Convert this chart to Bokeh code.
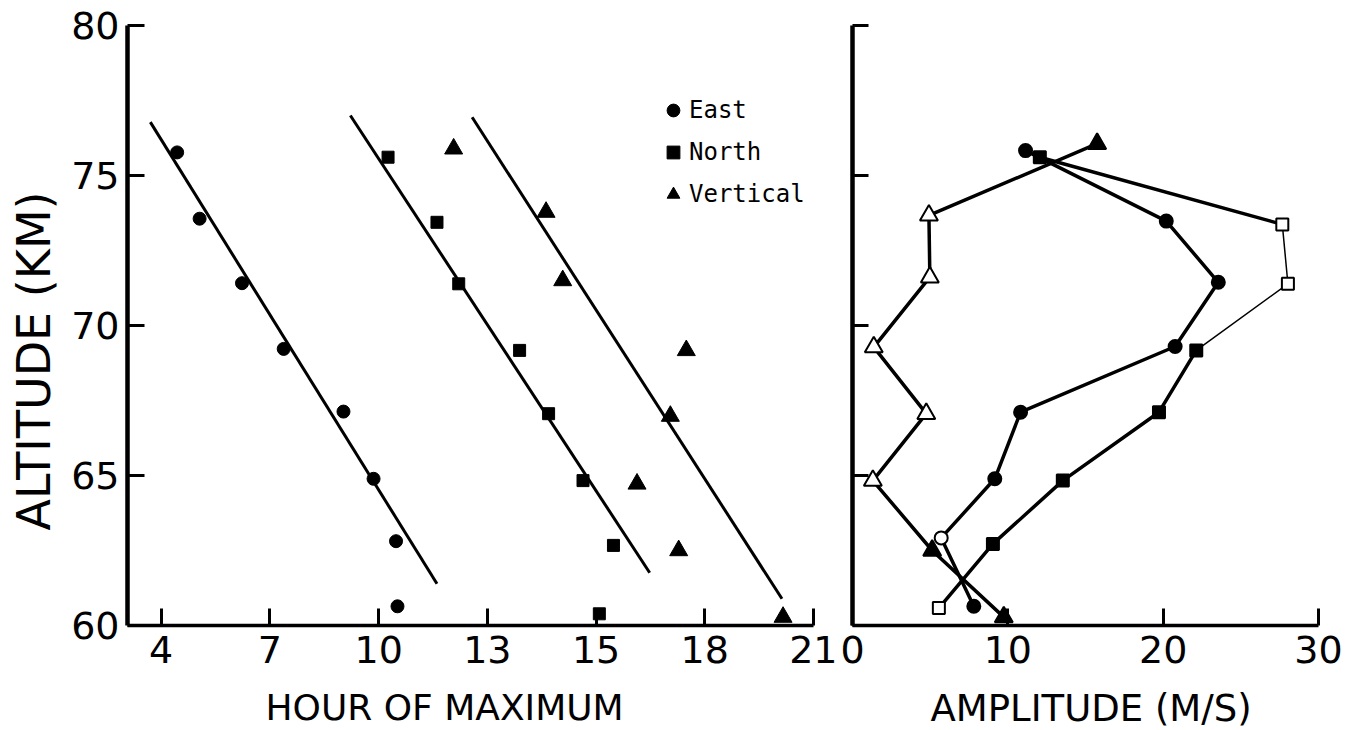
from bokeh.plotting import figure
from bokeh.layouts import row
from bokeh.models import Legend, LegendItem, Title, FixedTicker, LinearAxis
from bokeh.embed import file_html
from bokeh.resources import INLINE

# ---------------- data ----------------
# Left panel x axis: equally spaced ticks, printed labels as in the original figure
hour_ticks = [4, 7, 10, 13, 16, 19, 22]
hour_tick_labels = ["4", "7", "10", "13", "15", "18", "21"]
alt_ticks = [60, 65, 70, 75, 80]
amp_ticks = [0, 10, 20, 30]

# Left panel: hour of maximum (axis position) vs altitude
east_hour = [4.44, 5.06, 6.23, 7.38, 9.03, 9.86, 10.48, 10.52]
east_alt = [75.77, 73.56, 71.41, 69.22, 67.13, 64.89, 62.81, 60.64]
north_hour = [10.26, 11.61, 12.21, 13.89, 14.69, 15.64, 16.48, 16.09]
north_alt = [75.61, 73.44, 71.39, 69.17, 67.06, 64.83, 62.67, 60.39]
vert_hour = [12.07, 14.62, 15.08, 18.49, 18.05, 17.13, 18.28, 21.16]
vert_alt = [75.89, 73.78, 71.50, 69.17, 66.98, 64.72, 62.50, 60.28]

# fitted lines (end points)
east_fit_hour = [3.70, 11.61]
east_fit_alt = [76.78, 61.39]
north_fit_hour = [9.22, 17.48]
north_fit_alt = [77.00, 61.76]
vert_fit_hour = [12.58, 21.13]
vert_fit_alt = [76.94, 60.89]

# Right panel: amplitude (m/s) vs altitude
east_amp = [11.14, 20.20, 23.55, 20.77, 10.82, 9.16, 5.71, 7.81]
east_amp_alt = [75.83, 73.48, 71.44, 69.30, 67.11, 64.89, 62.92, 60.64]
north_amp = [12.06, 27.67, 28.03, 22.13, 19.73, 13.54, 9.04, 5.56]
north_amp_alt = [75.61, 73.37, 71.39, 69.17, 67.11, 64.83, 62.72, 60.58]
vert_amp = [15.75, 4.92, 4.98, 1.37, 4.75, 1.31, 5.13, 9.74]
vert_amp_alt = [76.06, 73.67, 71.61, 69.28, 67.06, 64.83, 62.50, 60.28]

# hollow-looking points in the right panel (indices)
east_open = [6]
north_open = [1, 2, 7]
vert_open = [1, 2, 3, 4, 5]

FONT = "DejaVu Sans"


def style_axis(ax, tick_len, line_w=4):
    ax.axis_line_width = line_w
    ax.axis_line_color = "black"
    ax.major_tick_in = tick_len
    ax.major_tick_out = 0
    ax.major_tick_line_width = 3
    ax.major_tick_line_color = "black"
    ax.minor_tick_line_color = None
    ax.major_label_text_font = FONT
    ax.major_label_text_font_size = "38px"
    ax.major_label_text_color = "black"


def spacer_axis(gap, tick):
    # an invisible axis (white tick, empty label, no line) that only reserves
    # room between the tick labels and the axis title
    return LinearAxis(ticker=FixedTicker(ticks=[tick]), axis_line_color=None,
                      major_tick_line_color="white", minor_tick_line_color=None,
                      major_tick_in=0, major_tick_out=gap, minor_tick_in=0,
                      minor_tick_out=0, major_label_standoff=0,
                      major_label_overrides={tick: ""},
                      major_label_text_color="white")


def base_fig(**kw):
    p = figure(height=730, y_range=(60, 80), min_border_top=25,
               min_border_bottom=105, output_backend="svg",
               toolbar_location=None, **kw)
    p.xgrid.visible = False
    p.ygrid.visible = False
    p.outline_line_color = None
    p.background_fill_color = "white"
    p.border_fill_color = "white"
    return p


# ---------------- left panel ----------------
p1 = base_fig(width=837, x_range=(3.07, 22.0), min_border_left=127,
              min_border_right=24)

style_axis(p1.xaxis[0], 17, 3.5)
p1.xaxis[0].ticker = FixedTicker(ticks=hour_ticks)
p1.xaxis[0].major_label_overrides = {t: l for t, l in zip(hour_ticks, hour_tick_labels)}
p1.xaxis[0].major_label_standoff = 10
style_axis(p1.yaxis[0], 17, 4.5)
p1.yaxis[0].ticker = FixedTicker(ticks=alt_ticks)
p1.yaxis[0].major_label_standoff = 8

for fx, fy in [(east_fit_hour, east_fit_alt), (north_fit_hour, north_fit_alt),
               (vert_fit_hour, vert_fit_alt)]:
    p1.line(fx, fy, line_color="black", line_width=3)

r_e = p1.scatter(east_hour, east_alt, marker="circle", size=13,
                 fill_color="black", line_color="black")
r_n = p1.scatter(north_hour, north_alt, marker="square", size=12,
                 fill_color="black", line_color="black")
r_v = p1.scatter(vert_hour, vert_alt, marker="triangle", size=18,
                 fill_color="black", line_color="black")

legend = Legend(items=[LegendItem(label="East", renderers=[r_e]),
                       LegendItem(label="North", renderers=[r_n]),
                       LegendItem(label="Vertical", renderers=[r_v])],
                location=(530, 413), orientation="vertical",
                border_line_color=None, background_fill_alpha=0,
                padding=0, margin=0, spacing=6, glyph_width=32,
                glyph_height=36, label_height=36, label_standoff=0,
                label_text_font="DejaVu Sans Mono", label_text_font_size="24px",
                label_text_color="black", label_text_baseline="middle")
p1.add_layout(legend)

p1.add_layout(Title(text="ALTITUDE (KM)", align="left", offset=95,
                    vertical_align="top", standoff=12, text_font=FONT,
                    text_font_size="46px", text_font_style="normal",
                    text_color="black"), "left")
p1.add_layout(spacer_axis(19, hour_ticks[0]), "below")
p1.add_layout(Title(text="HOUR OF MAXIMUM", align="left", offset=138,
                    vertical_align="bottom", standoff=0, text_font=FONT,
                    text_font_size="36px", text_font_style="normal",
                    text_color="black"), "below")

# ---------------- right panel ----------------
p2 = base_fig(width=510, x_range=(0, 30), min_border_left=15,
              min_border_right=29)

style_axis(p2.xaxis[0], 17, 3.5)
p2.xaxis[0].ticker = FixedTicker(ticks=amp_ticks)
p2.xaxis[0].major_label_standoff = 10
style_axis(p2.yaxis[0], 16, 4.5)
p2.yaxis[0].ticker = FixedTicker(ticks=alt_ticks)
p2.yaxis[0].major_label_overrides = {t: "" for t in alt_ticks}
p2.yaxis[0].major_label_standoff = 0


def fills(n, open_idx):
    return ["white" if i in open_idx else "black" for i in range(n)]


# East
p2.line(east_amp, east_amp_alt, line_color="black", line_width=3.5)
# North: thick first and last parts, thin through the hollow points
p2.line(north_amp[0:2], north_amp_alt[0:2], line_color="black", line_width=3.5)
p2.line(north_amp[1:4], north_amp_alt[1:4], line_color="black", line_width=1.5)
p2.line(north_amp[3:], north_amp_alt[3:], line_color="black", line_width=3.5)
# Vertical
p2.line(vert_amp, vert_amp_alt, line_color="black", line_width=3.5)

p2.scatter(east_amp, east_amp_alt, marker="circle", size=13,
           fill_color=fills(len(east_amp), east_open), line_color="black", line_width=2)
p2.scatter(north_amp, north_amp_alt, marker="square", size=12,
           fill_color=fills(len(north_amp), north_open), line_color="black", line_width=2)
p2.scatter(vert_amp, vert_amp_alt, marker="triangle", size=18,
           fill_color=fills(len(vert_amp), vert_open), line_color="black", line_width=2)

p2.add_layout(spacer_axis(19, amp_ticks[0]), "below")
p2.add_layout(Title(text="AMPLITUDE (M/S)", align="left", offset=78,
                    vertical_align="bottom", standoff=0, text_font=FONT,
                    text_font_size="37px", text_font_style="normal",
                    text_color="black"), "below")

layout = row(p1, p2)
open("out.html", "w").write(file_html(layout, INLINE))
